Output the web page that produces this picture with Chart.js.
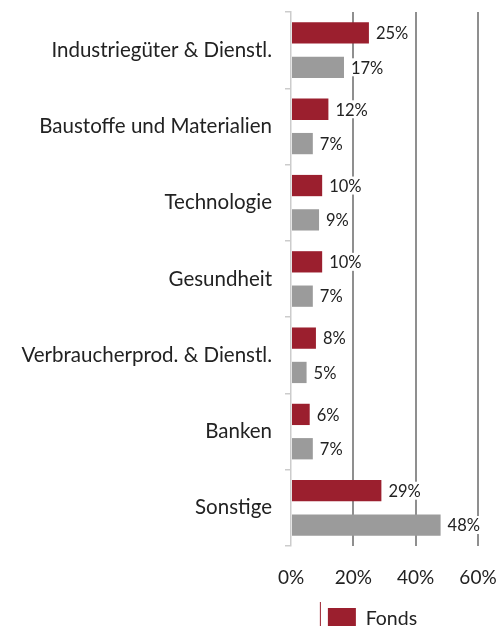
<!doctype html>
<html lang="de">
<head>
<meta charset="utf-8">
<title>Branchenallokation</title>
<script src="https://cdn.jsdelivr.net/npm/chart.js"></script>
<style>
  html, body { margin: 0; padding: 0; background: #fff; overflow: hidden; }
  .box { width: 499px; height: 640px; }
</style>
</head>
<body>
<div class="box"><canvas id="myChart"></canvas></div>
<script>
// data
const categories = ['Industriegüter & Dienstl.', 'Baustoffe und Materialien', 'Technologie', 'Gesundheit',
  'Verbraucherprod. & Dienstl.', 'Banken', 'Sonstige'];
const fonds = [25, 12, 10, 10, 8, 6, 29];
const vergleich = [17, 7, 9, 7, 5, 7, 48];
const xTicks = [0, 20, 40, 60];

const red = '#9b1f2e';
const grey = '#9b9b9b';
const fontFamily = 'Lato, "Open Sans", sans-serif';

// value labels with a white patch behind them
const valueLabels = {
  id: 'valueLabels',
  afterDatasetsDraw(chart) {
    const ctx = chart.ctx;
    ctx.save();
    ctx.font = '16.5px ' + fontFamily;
    ctx.textBaseline = 'middle';
    chart.data.datasets.forEach((ds, i) => {
      chart.getDatasetMeta(i).data.forEach((bar, j) => {
        const txt = ds.data[j] + '%';
        const x = bar.x + 7;
        const w = ctx.measureText(txt).width;
        ctx.fillStyle = '#fff';
        ctx.fillRect(x - 2, bar.y - 9, w + 4, 18);
        ctx.fillStyle = '#222';
        ctx.fillText(txt, x, bar.y + 1);
      });
    });
    ctx.restore();
  }
};

// legend sits a little left of the plot centre, with a thin mark before it
const legendMark = {
  id: 'legendMark',
  afterLayout(chart) {
    const lg = chart.legend;
    if (!lg) return;
    lg.left -= 12;
    lg.right -= 12;
  },
  afterDraw(chart) {
    const lg = chart.legend;
    if (!lg || !lg.legendHitBoxes.length) return;
    const hb = lg.legendHitBoxes[0];
    const ctx = chart.ctx;
    ctx.save();
    ctx.strokeStyle = red;
    ctx.lineWidth = 1;
    ctx.beginPath();
    ctx.moveTo(hb.left - 7.5, hb.top - 6);
    ctx.lineTo(hb.left - 7.5, chart.height);
    ctx.stroke();
    ctx.restore();
  }
};

const config = {
  type: 'bar',
  data: {
    labels: categories,
    datasets: [
      { label: 'Fonds', data: fonds, backgroundColor: red, categoryPercentage: 0.9, barPercentage: 0.62 },
      { label: 'Vergleichsindex', data: vergleich, backgroundColor: grey, categoryPercentage: 0.9, barPercentage: 0.62 }
    ]
  },
  options: {
    indexAxis: 'y',
    responsive: true,
    maintainAspectRatio: false,
    animation: false,
    layout: { padding: { top: 12, right: 21, left: 0, bottom: 0 } },
    scales: {
      x: {
        min: 0,
        max: 60,
        afterBuildTicks(scale) { scale.ticks = xTicks.map(v => ({ value: v })); },
        afterFit(scale) {
          scale.height = 50;
          scale.paddingLeft = 0;
          scale.paddingRight = 0;
        },
        border: { display: false },
        grid: {
          color: ctx => ctx.tick && ctx.tick.value === 0 ? 'rgba(0,0,0,0)' : '#8f8f8f',
          lineWidth: 2,
          drawTicks: false
        },
        ticks: {
          padding: 20,
          color: '#222',
          font: { family: fontFamily, size: 19 },
          callback: v => v + '%'
        }
      },
      y: {
        afterFit(scale) {
          scale.width = 291;
          scale.paddingTop = 0;
          scale.paddingBottom = 0;
        },
        border: { color: '#cccccc', width: 1.5 },
        grid: { drawOnChartArea: false, color: '#cccccc', tickLength: 6, lineWidth: 1.5 },
        ticks: {
          padding: 13,
          color: '#222',
          font: { family: fontFamily, size: 20.5 }
        }
      }
    },
    plugins: {
      legend: {
        position: 'bottom',
        fullSize: false,
        labels: {
          filter: item => item.datasetIndex === 0,
          boxWidth: 28,
          boxHeight: 22,
          color: '#222',
          padding: 12,
          font: { family: fontFamily, size: 19.5 }
        }
      },
      tooltip: { enabled: false }
    }
  },
  plugins: [valueLabels, legendMark]
};

const myChart = new Chart(document.getElementById('myChart'), config);
</script>
</body>
</html>
